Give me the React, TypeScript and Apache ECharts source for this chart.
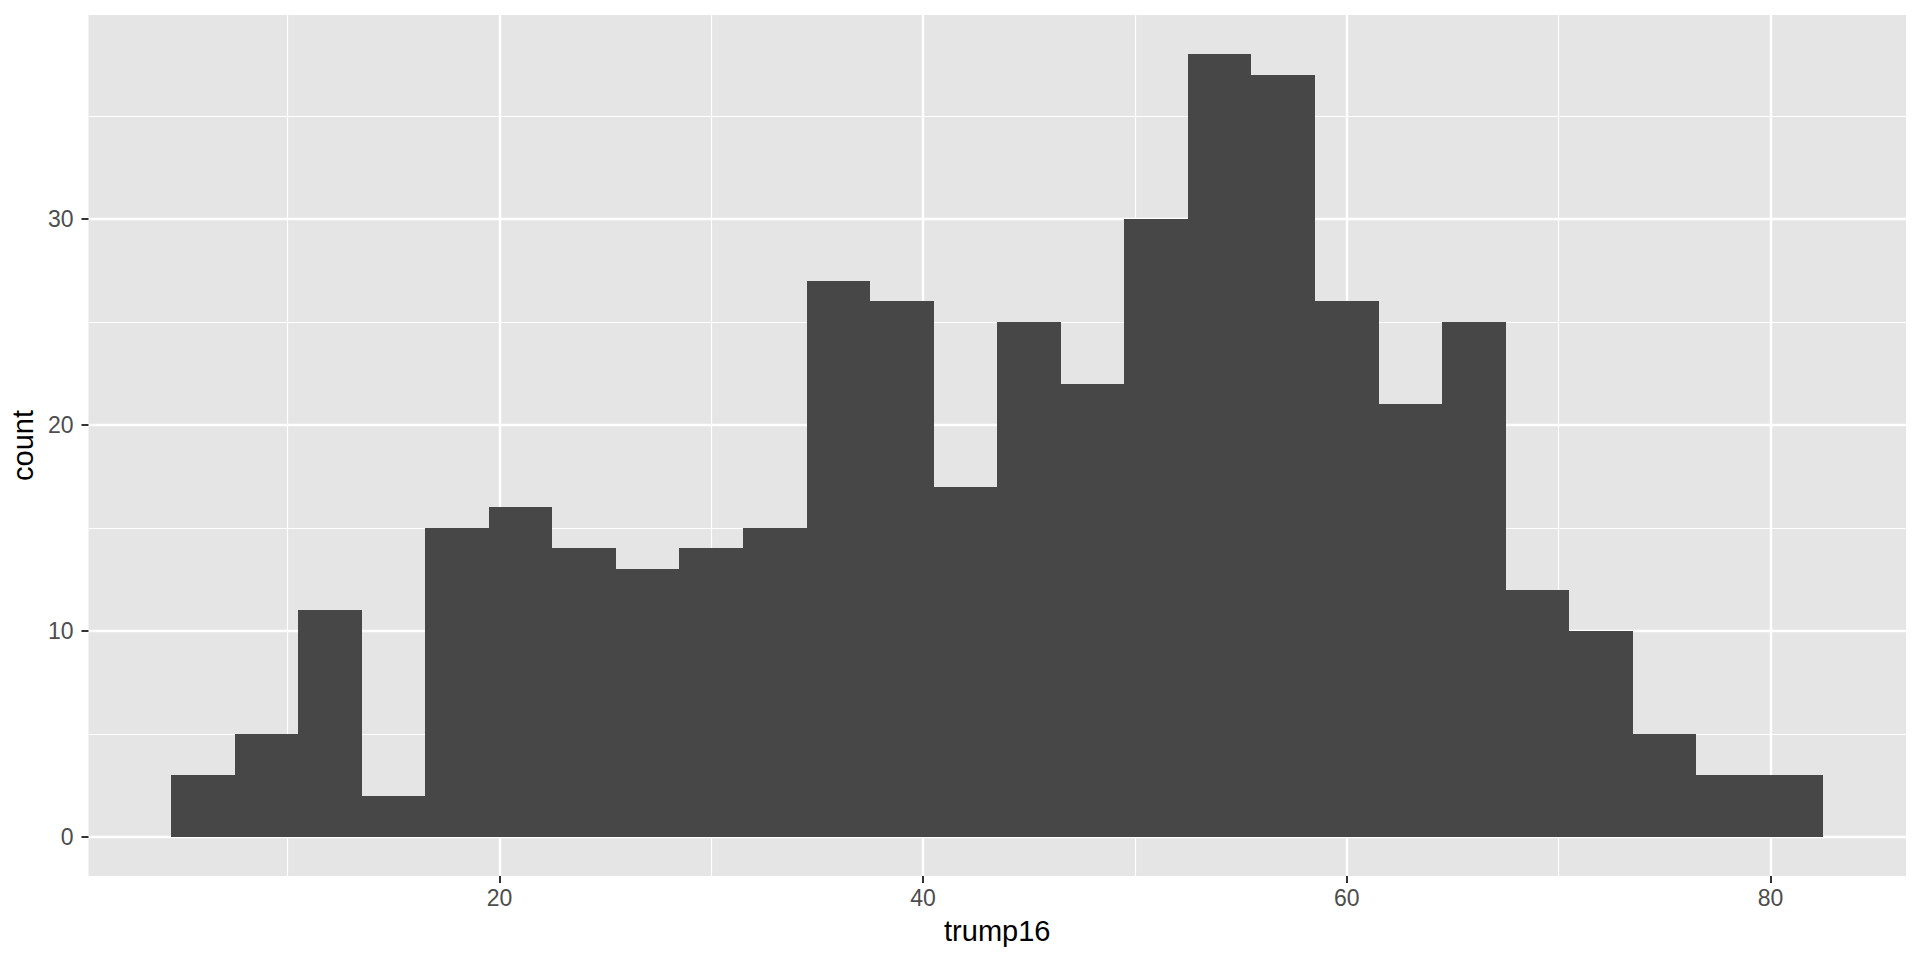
import React, { useEffect, useRef } from "react";
import * as echarts from "echarts";

// Histogram of trump16 (bin width 3)
const binStarts = [4.5, 7.5, 10.5, 13.5, 16.5, 19.5, 22.5, 25.5, 28.5, 31.5, 34.5, 37.5, 40.5, 43.5, 46.5, 49.5, 52.5, 55.5, 58.5, 61.5, 64.5, 67.5, 70.5, 73.5, 76.5, 79.5];
const binWidth = 3;
const counts = [3, 5, 11, 2, 15, 16, 14, 13, 14, 15, 27, 26, 17, 25, 22, 30, 38, 37, 26, 21, 25, 12, 10, 5, 3, 3];

const xMajorTicks = [20, 40, 60, 80];
const xMinorTicks = [10, 30, 50, 70];
const yMajorTicks = [0, 10, 20, 30];
const yMinorTicks = [5, 15, 25, 35];

const xTitle = "trump16";
const yTitle = "count";

const FONT = "Liberation Sans, Arial, Helvetica, sans-serif";
const X_MIN = 0.6;
const X_MAX = 86.4;
const Y_MIN = -1.9;
const Y_MAX = 39.9;
const BAR_COLOR = "#474747";

export default function App() {
  const ref = useRef<HTMLDivElement>(null);
  useEffect(() => {
    if (!ref.current) return;
    const chart = echarts.init(ref.current, undefined, { renderer: "svg" });
    const data = binStarts.map((s, i) => [s, s + binWidth, counts[i]]);
    const hiddenLine = { show: false, onZero: false };
    const option: any = {
      animation: false,
      backgroundColor: "#FFFFFF",
      grid: {
        left: 88,
        top: 15,
        width: 1818,
        height: 861,
        show: true,
        backgroundColor: "#E5E5E5",
        borderWidth: 0,
        containLabel: false,
      },
      xAxis: [
        {
          type: "value",
          min: X_MIN,
          max: X_MAX,
          position: "bottom",
          axisLine: hiddenLine,
          axisTick: { show: true, length: 7, lineStyle: { color: "#333333", width: 2 }, customValues: xMajorTicks },
          axisLabel: { show: true, customValues: xMajorTicks, margin: 10, color: "#4D4D4D", fontSize: 23, fontFamily: FONT },
          splitLine: { show: true, lineStyle: { color: "#FFFFFF", width: 2.4 } },
          name: xTitle,
          nameLocation: "middle",
          nameGap: 40,
          nameTextStyle: { color: "#000000", fontSize: 29, fontFamily: FONT },
        },
        {
          type: "value",
          min: X_MIN,
          max: X_MAX,
          position: "bottom",
          axisLine: hiddenLine,
          axisTick: { show: false, customValues: xMinorTicks },
          axisLabel: { show: false, customValues: xMinorTicks },
          splitLine: { show: true, lineStyle: { color: "#FFFFFF", width: 1.2 } },
        },
      ],
      yAxis: [
        {
          type: "value",
          min: Y_MIN,
          max: Y_MAX,
          position: "left",
          axisLine: hiddenLine,
          axisTick: { show: true, length: 7, lineStyle: { color: "#333333", width: 2 }, customValues: yMajorTicks },
          axisLabel: { show: true, customValues: yMajorTicks, margin: 15, color: "#4D4D4D", fontSize: 23, fontFamily: FONT },
          splitLine: { show: true, lineStyle: { color: "#FFFFFF", width: 2.4 } },
          name: yTitle,
          nameLocation: "middle",
          nameGap: 48,
          nameRotate: 90,
          nameTextStyle: { color: "#000000", fontSize: 29, fontFamily: FONT },
        },
        {
          type: "value",
          min: Y_MIN,
          max: Y_MAX,
          position: "left",
          axisLine: hiddenLine,
          axisTick: { show: false, customValues: yMinorTicks },
          axisLabel: { show: false, customValues: yMinorTicks },
          splitLine: { show: true, lineStyle: { color: "#FFFFFF", width: 1.2 } },
        },
      ],
      series: [
        {
          type: "custom",
          xAxisIndex: 0,
          yAxisIndex: 0,
          z: 5,
          encode: { x: [0, 1], y: 2 },
          data,
          renderItem: (params: any, api: any) => {
            const x0 = api.value(0);
            const x1 = api.value(1);
            const c = api.value(2);
            const p0 = api.coord([x0, c]);
            const p1 = api.coord([x1, 0]);
            const left = Math.round(p0[0]);
            const right = Math.round(p1[0]);
            const top = Math.round(p0[1]);
            const bottom = Math.round(p1[1]);
            return {
              type: "rect",
              shape: { x: left, y: top, width: right - left, height: bottom - top },
              style: { fill: BAR_COLOR },
            };
          },
        },
      ],
    };
    chart.setOption(option);
    return () => chart.dispose();
  }, []);
  return (
    <div
      ref={ref}
      style={{ position: "fixed", left: 0, top: 0, width: 1920, height: 960, background: "#FFFFFF" }}
    />
  );
}
